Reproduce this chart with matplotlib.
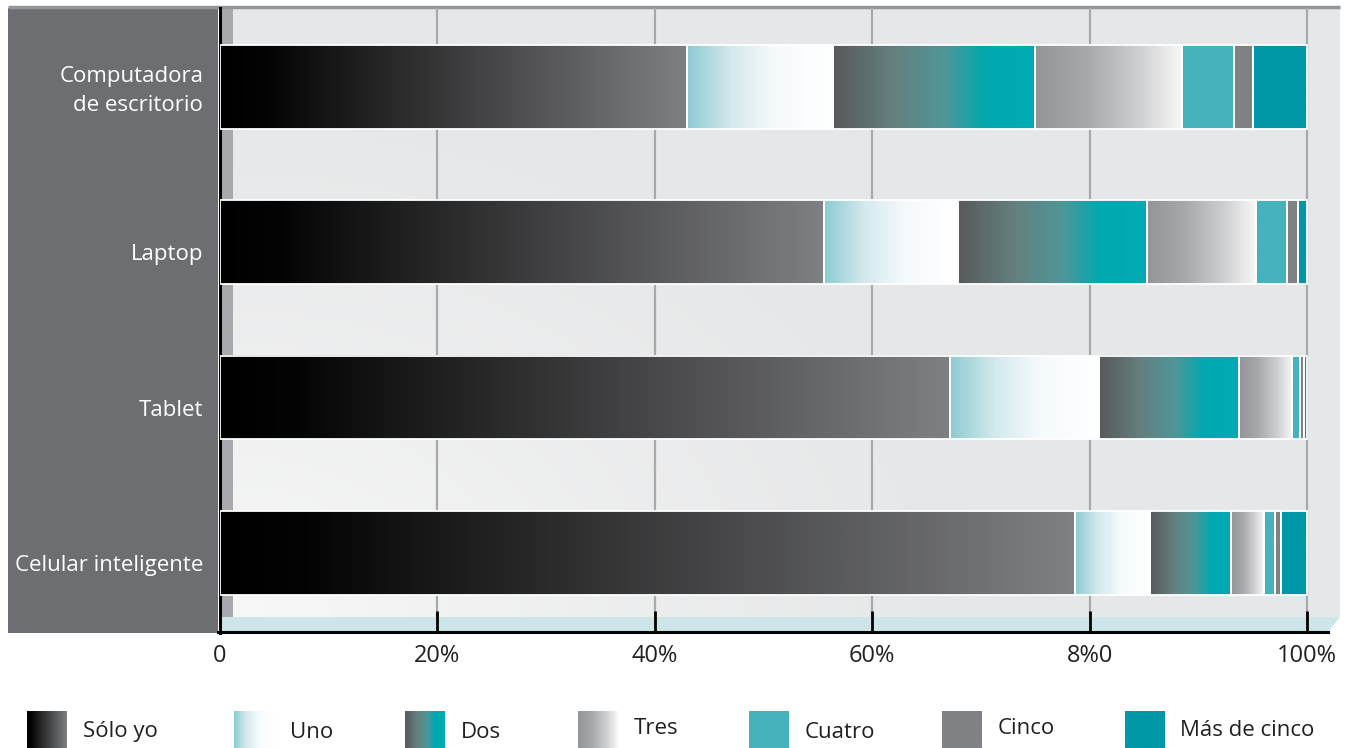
import numpy as np
import matplotlib.pyplot as plt
from matplotlib.colors import LinearSegmentedColormap
from matplotlib.patches import Rectangle, Polygon
from matplotlib.transforms import ScaledTranslation

plt.rcParams['font.family'] = ['Open Sans', 'DejaVu Sans']

# datos (porcentaje de hogares por numero de usuarios)
categorias = ['Computadora\nde escritorio', 'Laptop', 'Tablet', 'Celular inteligente']
series = ['Sólo yo', 'Uno', 'Dos', 'Tres', 'Cuatro', 'Cinco', 'Más de cinco']
solo_yo = [43.0, 55.6, 67.2, 78.7]
uno = [13.4, 12.3, 13.7, 6.9]
dos = [18.6, 17.4, 12.8, 7.4]
tres = [13.5, 10.0, 4.9, 3.0]
cuatro = [4.8, 2.9, 0.8, 1.1]
cinco = [1.7, 1.0, 0.3, 0.5]
mas_de_cinco = [5.0, 0.8, 0.3, 2.4]
ticks = [0, 20, 40, 60, 80, 100]
tick_labels = ['0', '20%', '40%', '60%', '8%0', '100%']

data = [solo_yo, uno, dos, tres, cuatro, cinco, mas_de_cinco]

def cm(name, stops):
    return LinearSegmentedColormap.from_list(name, stops)

cmaps = [
    cm('solo', [(0, '#000000'), (0.1, '#040404'), (1, '#7f8083')]),
    cm('uno', [(0, '#8ccbd1'), (0.3, '#d3e9ed'), (0.6, '#f5fafc'), (1, '#ffffff')]),
    cm('dos', [(0, '#58595b'), (0.3, '#64807f'), (0.55, '#4f9698'), (0.75, '#00a9b0'), (1, '#00abb3')]),
    cm('tres', [(0, '#939598'), (0.35, '#a6a8ab'), (0.7, '#cdced0'), (1, '#f8f8f8')]),
    cm('cuatro', ['#45b2bd', '#45b2bd']),
    cm('cinco', ['#808285', '#808285']),
    cm('mas', ['#0097a7', '#0097a7']),
]

W, H = 1354, 748
fig = plt.figure(figsize=(W / 100, H / 100), dpi=100)

# capa de fondo en pixeles
bg = fig.add_axes([0, 0, 1, 1])
bg.axis('off')

bg.add_patch(Rectangle((8, 8), 210, 625, color='#6d6e71', lw=0))
bg.plot([8, 1340], [6.5, 6.5], color='#939598', lw=2.5, solid_capstyle='butt')

yy, xx = np.mgrid[0:1:120j, 0:1:300j]
shade = np.clip(1 - np.sqrt((xx / 0.7) ** 2 + ((1 - yy) / 0.9) ** 2), 0, 1) ** 1.3
bg_cmap = cm('bg', ['#e6e7e8', '#f8f8f8'])
bg.imshow(shade, cmap=bg_cmap, extent=(220, 1340, 617, 8), aspect='auto',
          interpolation='bilinear', zorder=0)
bg.add_patch(Rectangle((221, 8), 12, 609, color='#a7a9ac', lw=0, zorder=1))
bg.add_patch(Polygon([(221, 617), (1340, 617), (1328, 632), (221, 632)],
                     closed=True, color='#cde4e8', lw=0, zorder=1))
bg.plot([218, 1328], [632, 632], color='#000000', lw=2.2, zorder=3)
bg.plot([219.5, 219.5], [8, 633], color='#000000', lw=2.2, zorder=3)

# ejes de datos
ax = fig.add_axes([220 / W, (H - 632) / H, (1340 - 220) / W, (632 - 8) / H])
ax.set_facecolor('none')
for s in ax.spines.values():
    s.set_visible(False)

x_max = 100 * (1340 - 220) / (1307 - 220)
y_top, y_bot = -0.505, 3.508
floor_y = 3 + (617 - 553) / 155.5

ax.vlines(ticks[1:], y_top, floor_y, color='#a7a9ac', lw=1.6, zorder=1)

bar_h = 0.54
grad = np.linspace(0, 1, 256).reshape(1, -1)
left = np.zeros(len(categorias))
for vals, cmap in zip(data, cmaps):
    for i, v in enumerate(vals):
        ax.imshow(grad, cmap=cmap, extent=(left[i], left[i] + v, i + bar_h / 2, i - bar_h / 2),
                  aspect='auto', interpolation='bilinear', zorder=2)
        ax.add_patch(Rectangle((left[i], i - bar_h / 2), v, bar_h, fill=False,
                               ec='white', lw=1.3, zorder=3))
    left += np.array(vals)

ax.set_xlim(0, x_max)
ax.set_ylim(y_bot, y_top)

ax.set_xticks(ticks)
ax.set_xticklabels(tick_labels, fontsize=17, color='#231f20')
ax.tick_params(axis='x', direction='in', length=15, width=2, color='black', pad=9)
ax.set_yticks(range(len(categorias)))
ylabels = ax.set_yticklabels(categorias, fontsize=16, color='white', linespacing=1.5)
ax.tick_params(axis='y', length=0, pad=12)
# ajuste vertical fino de las etiquetas
ylabels[0].set_transform(ylabels[0].get_transform() + ScaledTranslation(0, 0.025, fig.dpi_scale_trans))
for lab in ylabels[1:]:
    lab.set_transform(lab.get_transform() + ScaledTranslation(0, -0.1, fig.dpi_scale_trans))

# leyenda
sq_x = [27, 234, 405, 578, 749, 942, 1125]
txt_x = [83, 290, 461, 634, 805, 998, 1180]
txt_y = [731, 732, 732, 728, 733, 729, 731]
for name, cmap, sx, tx, ty in zip(series, cmaps, sq_x, txt_x, txt_y):
    bg.imshow(grad, cmap=cmap, extent=(sx, sx + 40, 749, 711), aspect='auto',
              interpolation='bilinear', zorder=2)
    bg.text(tx, ty, name, fontsize=16, color='#231f20', ha='left', va='center')
bg.set_xlim(0, W)
bg.set_ylim(H, 0)

fig.savefig('out.png', dpi=100)
